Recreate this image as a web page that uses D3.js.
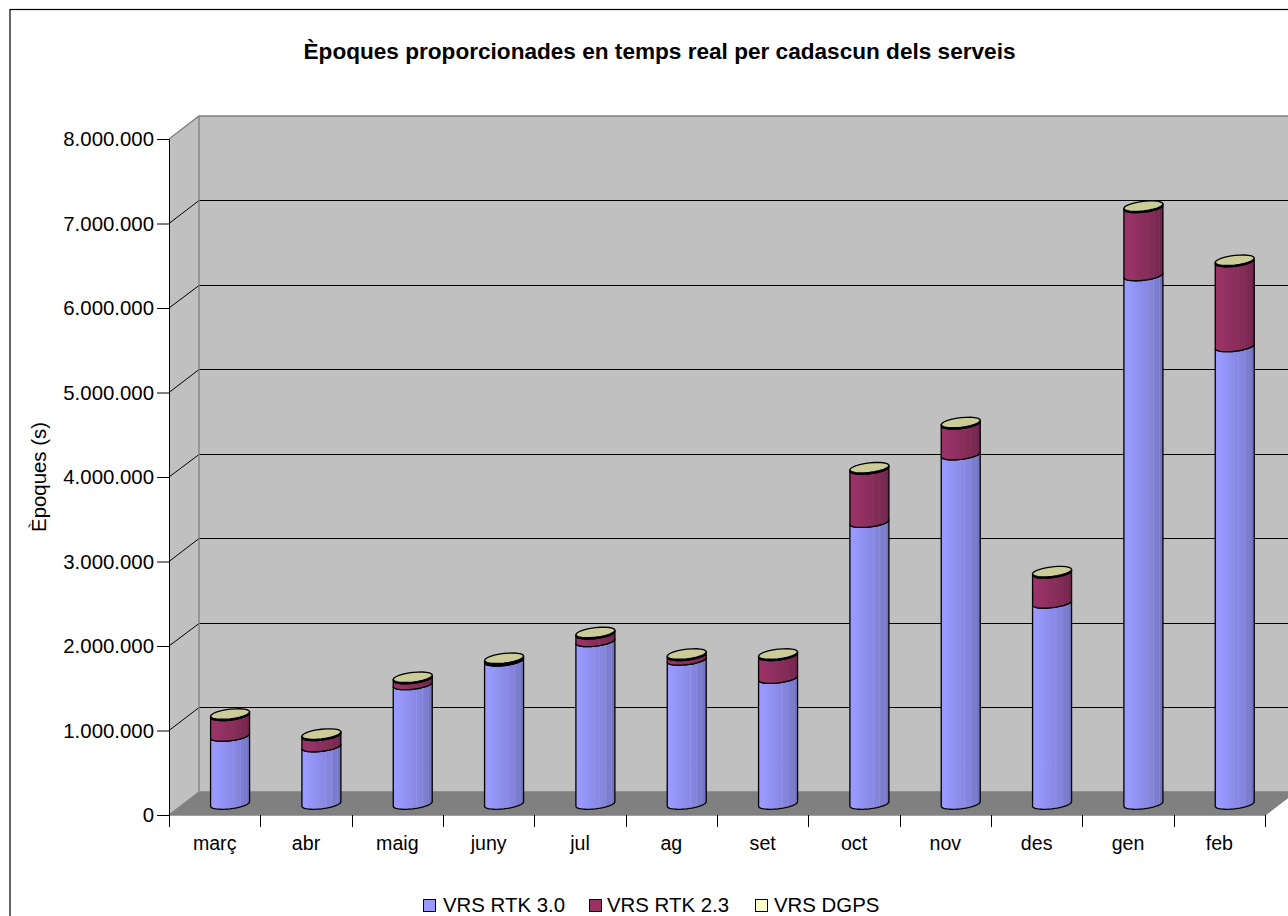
<!DOCTYPE html>
<html><head><meta charset="utf-8">
<script src="https://cdn.jsdelivr.net/npm/d3@7"></script>
<style>html,body{margin:0;padding:0;background:#fff;overflow:hidden}svg{display:block}text{font-family:"Liberation Sans",Arial,sans-serif;fill:#000}</style>
</head><body><svg id="c" width="1288" height="916"></svg>
<script>
const categories=["març","abr","maig","juny","jul","ag","set","oct","nov","des","gen","feb"];
const rtk30=[805000,680000,1415000,1695000,1925000,1705000,1490000,3335000,4135000,2380000,6255000,5415000];
const rtk23=[245000,133000,70000,15000,90000,55000,270000,630000,365000,355000,805000,1005000];
const dgps=[15000,15000,15000,15000,15000,15000,15000,15000,15000,15000,15000,15000];
const seriesNames=["VRS RTK 3.0","VRS RTK 2.3","VRS DGPS"];
const seriesColors=["#9999FF","#993366","#FFFFCC"];
const darkColors=["#7474BE","#70264C","#CCCC99"];
const yTicks=[0,1e6,2e6,3e6,4e6,5e6,6e6,7e6,8e6];

const svg=d3.select("#c");
const x=d3.scaleBand().domain(categories).range([169,1265]);
const y=d3.scaleLinear().domain([0,8000000]).range([815,139]);
const dx=30,dy=-23;
const fmt=d3.formatLocale({decimal:",",thousands:".",grouping:[3],currency:["","€"]}).format(",d");

svg.append("rect").attr("x",10).attr("y",9.5).attr("width",1400).attr("height",1000).attr("fill","#fff").attr("stroke","#000").attr("stroke-width",1.2);

const defs=svg.append("defs");
seriesColors.slice(0,2).forEach((c,i)=>{
  const g=defs.append("linearGradient").attr("id","g"+i).attr("x1",0).attr("x2",1).attr("y1",0).attr("y2",0);
  const mix=d3.interpolateRgb(c,darkColors[i]);
  const stops=[[0,.0],[.12,.0],[.3,.15],[.42,.3],[.58,.42],[.6,.2],[.62,.5],[.74,.6],[.76,.35],[.78,.7],[.9,.8],[.915,.55],[.93,1],[1,1]];
  stops.forEach(s=>g.append("stop").attr("offset",s[0]).attr("stop-color",mix(s[1])));
});

const line=d3.line();
const yMax=y(8000000),y0=y(0),xL=x.range()[0],xR=x.range()[1];
svg.append("path").attr("d",line([[xL,yMax],[xL+dx,yMax+dy],[1400,yMax+dy],[1400,y0+dy],[xL+dx,y0+dy],[xL,y0]])+"Z").attr("fill","#C0C0C0");
svg.append("path").attr("d",line([[xL,y0],[xL+dx,y0+dy],[xR+dx,y0+dy],[xR,y0]])+"Z").attr("fill","#808080");
svg.selectAll("path.grid").data(yTicks.slice(1,-1)).join("path").attr("class","grid").attr("fill","none").attr("stroke","#000").attr("stroke-width",1)
  .attr("d",d=>line([[xL,y(d)],[xL+dx,Math.floor(y(d)+dy)+.5],[1400,Math.floor(y(d)+dy)+.5]]));
svg.append("path").attr("fill","none").attr("stroke","#808080").attr("stroke-width",1.3)
  .attr("d",line([[xL,yMax],[xL+dx,yMax+dy],[1400,yMax+dy]])+"M"+(xL+dx)+","+(yMax+dy)+"V"+(y0+dy)+"L"+xL+","+y0+"M"+(xL+dx)+","+(y0+dy)+"H1400M"+xL+","+y0+"H"+xR+"L"+(xR+30)+","+(y0+dy));

const ay=svg.append("g").attr("transform",`translate(${xL},0)`).call(d3.axisLeft(y).tickValues(yTicks).tickFormat(fmt).tickSize(12).tickPadding(3));
ay.selectAll("text").attr("font-size",20.4).attr("font-family",'"Liberation Sans"');
ay.select(".domain").attr("stroke","#000");
const ax=svg.append("g").attr("transform",`translate(0,${y0})`).call(d3.axisBottom(x).tickSize(0).tickPadding(21));
ax.select(".domain").remove();
ax.selectAll("text").attr("font-size",19.6).attr("font-family",'"Liberation Sans"');
svg.selectAll("path.xt").data(d3.range(categories.length+1)).join("path").attr("class","xt").attr("stroke","#000").attr("d",i=>{
  const px=Math.round(xL+i*x.step())+.5; return `M${px},${y0}V${y0+12}`;});

const a=19.5,sk=2.2,b=4.8;
function arc(cx,cy,from,to){
  return d3.range(0,25).map(i=>{const t=from+(to-from)*i/24;return [cx+a*Math.cos(t),cy-sk*Math.cos(t)+b*Math.sin(t)];});
}
const barsG=svg.append("g");
categories.forEach((c,i)=>{
  const cx=x(c)+x.bandwidth()/2+15.4;
  const level=v=>y(v)-11;
  let acc=0;
  [rtk30,rtk23,dgps].forEach((arr,k)=>{
    const y1=level(acc),y2=level(acc+arr[i]);
    const pts=arc(cx,y1,0,Math.PI).concat(arc(cx,y2,Math.PI,0));
    barsG.append("path").attr("d",line(pts)+"Z").attr("fill",k<2?`url(#g${k})`:darkColors[2]).attr("stroke","#000").attr("stroke-width",1.3).attr("stroke-linejoin","round");
    acc+=arr[i];
  });
  const top=level(acc);
  barsG.append("path").attr("d",line(arc(cx,top,0,2*Math.PI))+"Z").attr("fill",darkColors[2]).attr("stroke","#000").attr("stroke-width",1.3);
});

svg.append("text").attr("x",659.5).attr("y",59).attr("text-anchor","middle").attr("font-weight","bold").attr("font-size",22.6).text("Èpoques proporcionades en temps real per cadascun dels serveis");
svg.append("text").attr("transform","translate(46,477) rotate(-90)").attr("text-anchor","middle").attr("font-size",20.4).text("Èpoques (s)");

const legX=[423,589,755],legT=[443,607,774];
seriesNames.forEach((n,i)=>{
  svg.append("rect").attr("x",legX[i]+.5).attr("y",899.5).attr("width",12).attr("height",12).attr("fill",seriesColors[i]).attr("stroke","#000");
  svg.append("text").attr("x",legT[i]).attr("y",912).attr("font-size",20.4).text(n);
});
</script></body></html>
